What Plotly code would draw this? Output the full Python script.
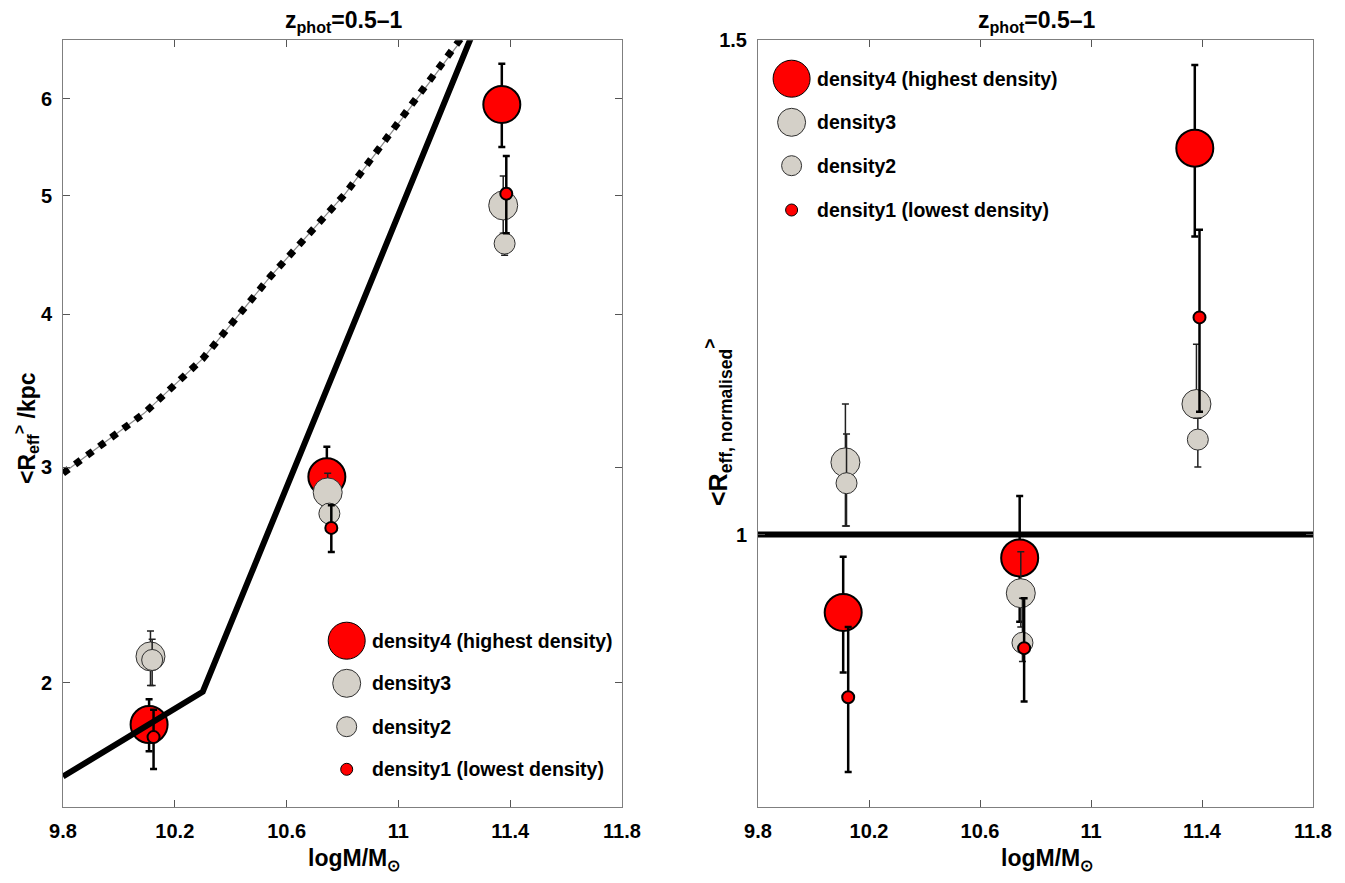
import numpy as np
import plotly.graph_objects as go

# page window is 1345x883; the html body has an 8px margin
OFF = 8
W, H = 1345 - 2 * OFF, 883 - 2 * OFF
FONT = "Liberation Sans, Arial, sans-serif"

# ---------------- data: left panel (<R_eff> / kpc) ----------------
names = ["density4 (highest density)", "density3", "density2", "density1 (lowest density)"]

L_x = {
    "d4": [10.108, 10.744, 11.370],
    "d3": [10.113, 10.747, 11.375],
    "d2": [10.119, 10.753, 11.380],
    "d1": [10.124, 10.760, 11.386],
}
L_y = {
    "d4": [1.848, 2.946, 5.937],
    "d3": [2.101, 2.861, 4.910],
    "d2": [2.087, 2.749, 4.570],
    "d1": [1.805, 2.676, 5.020],
}
L_hi = {
    "d4": [1.938, 3.118, 6.410],
    "d3": [2.204, 2.966, 5.190],
    "d2": [2.170, 2.800, 4.660],
    "d1": [1.900, 2.792, 5.390],
}
L_lo = {
    "d4": [1.758, 2.783, 5.480],
    "d3": [1.989, 2.760, 4.660],
    "d2": [1.989, 2.700, 4.470],
    "d1": [1.700, 2.557, 4.660],
}

# model relations in left panel
solid_x = [9.8, 10.3, 11.3]
solid_y = [1.676, 1.966, 7.09]
dashdot_x = [9.8, 10.09, 10.3, 10.54, 10.81, 11.225, 11.26]
dashdot_y = [2.966, 3.32, 3.68, 4.29, 5.02, 6.70, 6.90]

# ---------------- data: right panel (normalised) ----------------
R_x = {
    "d4": [10.107, 10.743, 11.374],
    "d3": [10.115, 10.747, 11.380],
    "d2": [10.119, 10.753, 11.385],
    "d1": [10.125, 10.759, 11.391],
}
R_y = {
    "d4": [0.938, 0.981, 1.373],
    "d3": [1.061, 0.953, 1.113],
    "d2": [1.043, 0.915, 1.081],
    "d1": [0.875, 0.911, 1.195],
}
R_hi = {
    "d4": [0.982, 1.032, 1.470],
    "d3": [1.113, 0.986, 1.169],
    "d2": [1.086, 0.949, 1.100],
    "d1": [0.927, 0.949, 1.284],
}
R_lo = {
    "d4": [0.893, 0.931, 1.277],
    "d3": [1.007, 0.927, 1.100],
    "d2": [1.007, 0.901, 1.057],
    "d1": [0.823, 0.872, 1.106],
}
ref_x = [9.8, 11.8]
ref_y = [1.0, 1.0]

x_ticks = [9.8, 10.2, 10.6, 11.0, 11.4, 11.8]
x_ticktext = ["9.8", "10.2", "10.6", "11", "11.4", "11.8"]
yL_ticks = [2, 3, 4, 5, 6]
yR_ticks = [1, 1.5]
yR_ticktext = ["1", "1.5"]

# ---------------- styles ----------------
RED = "#ff0000"
GRAY = "#d4d0c8"
style = {
    "d4": dict(size=37, color=RED, lc="#000000", lw=2, et=2.5, ec="#000000"),
    "d3": dict(size=29, color=GRAY, lc="#303030", lw=1, et=1.5, ec="#202020"),
    "d2": dict(size=21, color=GRAY, lc="#303030", lw=1, et=1.5, ec="#202020"),
    "d1": dict(size=12, color=RED, lc="#000000", lw=2, et=2.5, ec="#000000"),
}
keys = ["d4", "d3", "d2", "d1"]

fig = go.Figure()


def add_points(k, xs, ys, hi, lo, xa, ya):
    s = style[k]
    ys = np.array(ys)
    fig.add_trace(go.Scatter(
        x=xs, y=ys, mode="markers", xaxis=xa, yaxis=ya, showlegend=False,
        marker=dict(size=s["size"], color=s["color"], line=dict(color=s["lc"], width=s["lw"])),
        error_y=dict(type="data", symmetric=False,
                     array=np.array(hi) - ys, arrayminus=ys - np.array(lo),
                     thickness=s["et"], width=3.5, color=s["ec"]),
    ))


# left panel
add_points("d4", L_x["d4"], L_y["d4"], L_hi["d4"], L_lo["d4"], "x", "y")
fig.add_trace(go.Scatter(x=dashdot_x, y=dashdot_y, mode="lines", xaxis="x", yaxis="y",
                         showlegend=False, line=dict(color="#8a8a8a", width=1.2)))
fig.add_trace(go.Scatter(x=dashdot_x, y=dashdot_y, mode="lines", xaxis="x", yaxis="y",
                         showlegend=False, line=dict(color="#000000", width=7, dash="7px,8px")))
fig.add_trace(go.Scatter(x=solid_x, y=solid_y, mode="lines", xaxis="x", yaxis="y",
                         showlegend=False, line=dict(color="#000000", width=6)))
for k in ["d3", "d2", "d1"]:
    add_points(k, L_x[k], L_y[k], L_hi[k], L_lo[k], "x", "y")

# right panel
fig.add_trace(go.Scatter(x=ref_x, y=ref_y, mode="lines", xaxis="x2", yaxis="y2",
                         showlegend=False, line=dict(color="#000000", width=6)))
for k in keys:
    add_points(k, R_x[k], R_y[k], R_hi[k], R_lo[k], "x2", "y2")


# ---------------- layout (positions given in window pixels) ----------------
def px_x(p):
    return (p - OFF) / W


def px_y(p):
    return 1 - (p - OFF) / H


domL = [px_x(63), px_x(622)]
domR = [px_x(758), px_x(1313)]
domY = [px_y(806.5), px_y(40.3)]

tickfont = dict(family=FONT, size=20, color="#000000", weight="bold")
axcommon = dict(showline=True, linecolor="#7f7f7f", linewidth=1, mirror="ticks",
                ticks="inside", ticklen=7, tickcolor="#555555", showgrid=False,
                zeroline=False, tickfont=tickfont, automargin=False)

fig.update_layout(
    template="none",
    width=W, height=H, margin=dict(l=0, r=0, t=0, b=0, pad=0),
    paper_bgcolor="white", plot_bgcolor="white",
    xaxis=dict(domain=domL, range=[9.8, 11.8], tickvals=x_ticks, ticktext=x_ticktext,
               anchor="y", ticklabelstandoff=6, **axcommon),
    yaxis=dict(domain=domY, type="log", range=[np.log10(1.584), np.log10(6.70)],
               tickvals=yL_ticks, ticktext=[str(v) for v in yL_ticks], anchor="x",
               ticklabelstandoff=6, **axcommon),
    xaxis2=dict(domain=domR, range=[9.8, 11.8], tickvals=x_ticks, ticktext=x_ticktext,
                anchor="y2", ticklabelstandoff=6, **axcommon),
    yaxis2=dict(domain=domY, type="log", range=[np.log10(0.8), np.log10(1.5)],
                tickvals=yR_ticks, ticktext=yR_ticktext, anchor="x2",
                ticklabelstandoff=6, **axcommon),
)

# legends (drawn manually to keep true marker sizes)
leg_sizes = [37, 28, 20, 12]
leg_fill = [RED, GRAY, GRAY, RED]
leg_line = ["#000000", "#303030", "#303030", "#000000"]
legL = dict(cx=346.7, ys=[640.7, 683.3, 726.7, 769.3], tx=370)
legR = dict(cx=791.6, ys=[78.7, 122.3, 165.7, 210.0], tx=815)
shapes = []
annotations = []
for leg in (legL, legR):
    for i, nm in enumerate(names):
        r = leg_sizes[i] / 2
        shapes.append(dict(type="circle", xref="paper", yref="paper",
                           xsizemode="pixel", ysizemode="pixel",
                           xanchor=px_x(leg["cx"]), yanchor=px_y(leg["ys"][i]),
                           x0=-r, x1=r, y0=-r, y1=r,
                           fillcolor=leg_fill[i], line=dict(color=leg_line[i], width=1)))
        annotations.append(dict(text=nm, xref="paper", yref="paper", x=px_x(leg["tx"]),
                                y=px_y(leg["ys"][i]), xanchor="left", yanchor="middle",
                                showarrow=False,
                                font=dict(family=FONT, size=19.5, color="#000", weight="bold")))

titlefont = dict(family=FONT, size=23, color="#000", weight="bold")
for cx in (344, 1037):
    annotations.append(dict(text="z<sub>phot</sub>=0.5\u20131", xref="paper", yref="paper",
                            x=px_x(cx), y=px_y(21), xanchor="center", yanchor="middle",
                            showarrow=False, font=titlefont))
    annotations.append(dict(text="logM/M<sub>\u2299</sub>", xref="paper", yref="paper",
                            x=px_x(cx + 9.5), y=px_y(859), xanchor="center", yanchor="middle",
                            showarrow=False, font=dict(family=FONT, size=23, color="#000", weight="bold")))

annotations.append(dict(text="&lt;R<sub>eff</sub><sup>&gt;</sup> /kpc", xref="paper", yref="paper",
                        x=px_x(26), y=px_y(428), xanchor="center", yanchor="middle",
                        textangle=-90, showarrow=False,
                        font=dict(family=FONT, size=23, color="#000", weight="bold")))
annotations.append(dict(text="&lt;R<sub>eff, normalised</sub><sup>&gt;</sup>", xref="paper",
                        yref="paper", x=px_x(718), y=px_y(423), xanchor="center",
                        yanchor="middle", textangle=-90, showarrow=False,
                        font=dict(family=FONT, size=25, color="#000", weight="bold")))

fig.update_layout(shapes=shapes, annotations=annotations)
fig.write_html("out.html")
